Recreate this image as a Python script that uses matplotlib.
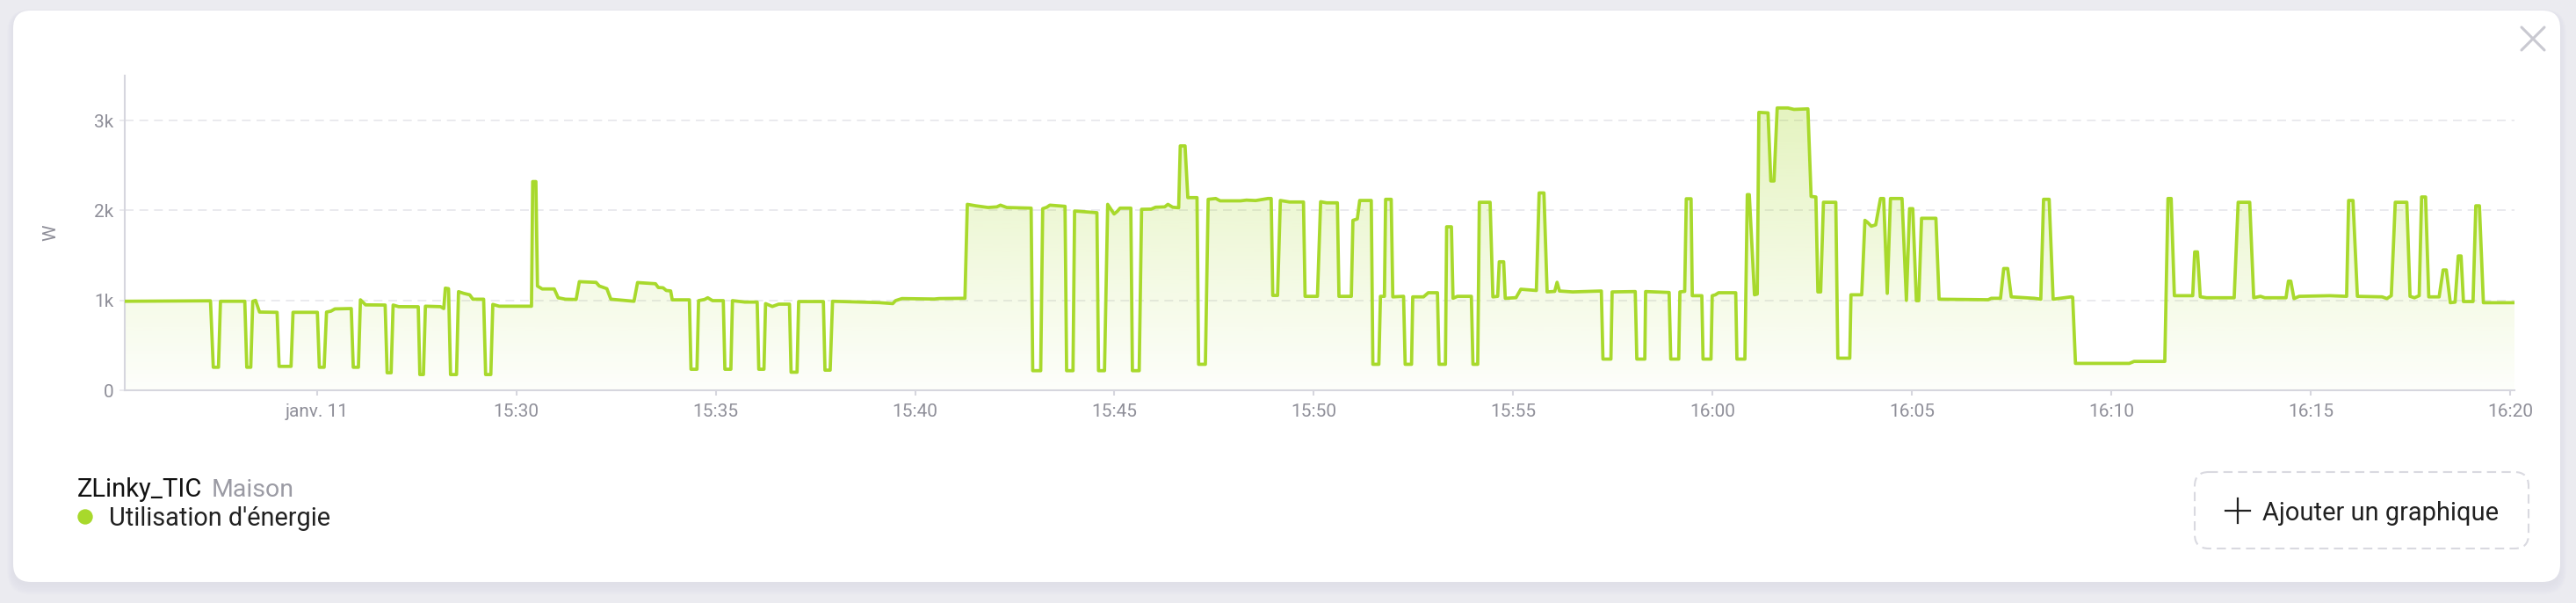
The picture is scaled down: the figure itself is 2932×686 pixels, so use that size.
#!/usr/bin/env python3
"""
Energy usage card (ZLinky_TIC) - one hour of power readings, 15:20 to 16:20.
"""

import numpy as np
import matplotlib.pyplot as plt
from matplotlib.colors import to_rgb
from matplotlib.patches import FancyBboxPatch, Circle

plt.rcParams['font.family'] = ['Roboto', 'DejaVu Sans']

W_PX, H_PX, DPI = 2932, 686, 100

# minutes after 15:20 (janv. 11)
minutes = [
    0.18, 2.33, 2.40, 2.53, 2.58, 3.19, 3.24, 3.34, 3.39, 3.46, 3.56, 4.00, 4.05, 4.35,
    4.40, 5.01, 5.06, 5.18, 5.24, 5.35, 5.45, 5.86, 5.91, 6.04, 6.09, 6.22, 6.71, 6.76,
    6.86, 6.91, 7.05, 7.54, 7.58, 7.67, 7.72, 8.10, 8.18, 8.22, 8.30, 8.35, 8.50, 8.55,
    8.68, 8.83, 8.91, 9.18, 9.23, 9.36, 9.41, 9.57, 10.38, 10.41, 10.49, 10.53, 10.65,
    10.95, 11.05, 11.23, 11.50, 11.58, 12.00, 12.08, 12.27, 12.37, 12.95, 13.04, 13.49,
    13.56, 13.68, 13.76, 13.87, 13.91, 14.34, 14.38, 14.53, 14.57, 14.72, 14.80, 14.92,
    15.19, 15.23, 15.38, 15.42, 15.73, 16.04, 16.08, 16.21, 16.25, 16.42, 16.58, 16.85,
    16.89, 17.04, 17.08, 17.70, 17.74, 17.87, 17.93, 19.10, 19.44, 19.51, 19.67, 20.48,
    20.60, 21.25, 21.31, 21.52, 21.83, 22.05, 22.14, 22.30, 22.91, 22.95, 23.15, 23.20,
    23.30, 23.38, 23.76, 23.80, 23.96, 24.00, 24.37, 24.56, 24.60, 24.75, 24.83, 24.99,
    25.07, 25.14, 25.41, 25.45, 25.62, 25.68, 25.92, 26.03, 26.26, 26.34, 26.46, 26.61,
    26.65, 26.77, 26.84, 27.07, 27.11, 27.28, 27.35, 27.54, 27.65, 28.16, 28.31, 28.54,
    28.85, 28.93, 28.97, 29.09, 29.16, 29.39, 29.74, 29.78, 30.09, 30.17, 30.32, 30.59,
    30.63, 30.94, 30.98, 31.09, 31.15, 31.44, 31.48, 31.63, 31.67, 31.77, 31.80, 31.94,
    31.98, 32.25, 32.29, 32.45, 32.48, 32.75, 32.87, 33.10, 33.14, 33.30, 33.33, 33.45,
    33.49, 33.60, 33.95, 33.99, 34.11, 34.15, 34.42, 34.49, 34.61, 34.65, 34.76, 34.80,
    35.07, 35.19, 35.58, 35.65, 35.77, 35.85, 36.04, 36.10, 36.16, 36.49, 37.21, 37.25,
    37.45, 37.48, 38.06, 38.10, 38.30, 38.32, 38.91, 38.95, 39.15, 39.18, 39.30, 39.34,
    39.46, 39.49, 39.73, 39.76, 39.96, 39.99, 40.07, 40.15, 40.58, 40.61, 40.81, 40.87,
    40.92, 41.05, 41.12, 41.16, 41.39, 41.46, 41.54, 41.62, 41.89, 42.04, 42.39, 42.47,
    42.59, 42.64, 42.71, 42.78, 43.09, 43.14, 43.44, 43.47, 43.74, 43.82, 43.88, 43.98,
    44.09, 44.21, 44.29, 44.38, 44.46, 44.75, 44.86, 44.94, 45.02, 45.11, 45.17, 45.24,
    45.60, 45.68, 46.91, 46.99, 47.22, 47.30, 47.40, 47.49, 47.84, 48.07, 48.23, 48.30,
    48.44, 48.54, 48.99, 49.03, 49.10, 50.45, 50.57, 51.34, 51.42, 51.50, 51.58, 52.04,
    52.09, 52.16, 52.23, 52.39, 53.08, 53.18, 53.47, 53.57, 53.74, 53.85, 54.38, 54.44,
    54.50, 54.58, 54.71, 55.48, 55.90, 55.95, 56.06, 56.17, 56.79, 56.91, 57.02, 57.12,
    57.41, 57.49, 57.60, 57.72, 57.78, 57.88, 57.96, 58.22, 58.32, 58.40, 58.50, 58.62,
    58.70, 58.77, 58.83, 59.07, 59.14, 59.23, 59.33, 60.11,
]
watts = [
    990, 995, 256, 256, 990, 990, 256, 256, 990, 1000, 870, 867, 266, 266,
    867, 867, 256, 256, 870, 880, 905, 909, 256, 256, 1006, 950, 948, 195,
    195, 948, 930, 929, 175, 175, 935, 930, 909, 1136, 1130, 175, 175, 1097,
    1078, 1062, 1013, 1013, 175, 175, 955, 935, 935, 2321, 2321, 1159, 1127,
    1127, 1029, 1013, 1010, 1208, 1200, 1160, 1130, 1013, 990, 1198, 1185,
    1143, 1140, 1110, 1105, 1006, 1006, 234, 234, 997, 1010, 1029, 997,
    997, 234, 234, 997, 981, 981, 234, 234, 964, 932, 958, 958,
    201, 201, 987, 987, 224, 224, 990, 975, 964, 997, 1020, 1015,
    1020, 1023, 2068, 2052, 2033, 2040, 2059, 2033, 2026, 218, 218, 2020,
    2035, 2059, 2046, 218, 218, 1994, 1981, 1975, 218, 218, 2068, 1961,
    1990, 2026, 2026, 218, 218, 2013, 2015, 2036, 2040, 2068, 2036, 2030,
    2718, 2718, 2143, 2143, 289, 289, 2124, 2133, 2107, 2107, 2115, 2110,
    2133, 2133, 1055, 1055, 2111, 2094, 2094, 1045, 1045, 2097, 2085, 2085,
    1045, 1045, 1890, 1906, 2111, 2111, 289, 289, 1045, 1045, 2124, 2124,
    1039, 1045, 289, 289, 1039, 1039, 1085, 1085, 289, 289, 1818, 1818,
    1023, 1045, 1045, 289, 289, 2091, 2091, 1039, 1045, 1429, 1429, 1023,
    1030, 1124, 1110, 2195, 2195, 1094, 1100, 1201, 1104, 1094, 1104, 347,
    347, 1094, 1098, 347, 347, 1098, 1088, 347, 347, 1094, 1100, 2130,
    2130, 1052, 1052, 347, 347, 1052, 1062, 1085, 1085, 347, 347, 2176,
    2176, 1062, 1070, 3091, 3085, 2328, 2328, 3140, 3140, 3124, 3130, 2156,
    2150, 1094, 1094, 2091, 2091, 357, 357, 1062, 1062, 1890, 1870, 1825,
    1840, 2133, 2133, 1078, 2133, 2133, 1000, 2020, 2020, 997, 997, 1913,
    1913, 1013, 1007, 1023, 1023, 1354, 1354, 1039, 1030, 1023, 1013, 2124,
    2124, 1013, 1039, 1035, 299, 299, 321, 321, 2133, 2133, 1052, 1052,
    1539, 1539, 1040, 1029, 1029, 2091, 2091, 1029, 1045, 1029, 1029, 1214,
    1214, 1020, 1045, 1052, 1045, 2111, 2111, 1045, 1039, 1020, 1052, 2091,
    2091, 1045, 1029, 1052, 2150, 2150, 1039, 1039, 1338, 1338, 974, 980,
    1494, 1494, 987, 987, 2052, 2052, 974, 974,
]

tick_minutes = [5, 10, 15, 20, 25, 30, 35, 40, 45, 50, 55, 60]
tick_labels = ['janv. 11', '15:30', '15:35', '15:40', '15:45', '15:50',
               '15:55', '16:00', '16:05', '16:10', '16:15', '16:20']
y_ticks = [0, 1000, 2000, 3000]
y_tick_labels = ['0', '1k', '2k', '3k']

LINE = '#a8d92c'
AXIS = '#d6d6de'
MUTED = '#8f8f99'
DARK = '#212121'


def draw_card(bg):
    """White rounded card with a soft shadow, legend and buttons"""
    for i in range(8):
        shadow = FancyBboxPatch((15 - i, 14 - i * 0.5), 2899 + 2 * i, 652 + 2 * i,
                                boxstyle=f'round,pad=0,rounding_size={20 + i}',
                                fc='#9090a0', ec='none', alpha=0.012)
        bg.add_patch(shadow)
    bg.add_patch(FancyBboxPatch((15, 12), 2899, 650,
                                boxstyle='round,pad=0,rounding_size=20',
                                fc='white', ec='none'))

    # close icon
    bg.plot([2870, 2896], [31, 57], color='#c9c9d1', lw=2.2, solid_capstyle='round')
    bg.plot([2870, 2896], [57, 31], color='#c9c9d1', lw=2.2, solid_capstyle='round')

    # legend
    bg.text(88, 565, 'ZLinky_TIC', fontsize=21, color='#111111', va='baseline')
    bg.text(241, 565, 'Maison', fontsize=20.5, color='#9b9ba4', va='baseline')
    bg.add_patch(Circle((97, 588), 8, color=LINE))
    bg.text(124, 598, "Utilisation d'énergie", fontsize=20.8, color=DARK, va='baseline')

    # add chart button
    bg.add_patch(FancyBboxPatch((2498, 537), 380, 87,
                                boxstyle='round,pad=0,rounding_size=16',
                                fc='none', ec='#d9d9e0', lw=1.5, ls=(0, (5, 3))))
    bg.plot([2533, 2561], [581, 581], color=DARK, lw=1.6)
    bg.plot([2547, 2547], [567, 595], color=DARK, lw=1.6)
    bg.text(2575, 592, 'Ajouter un graphique', fontsize=20.9, color=DARK, va='baseline')


def plot_energy(ax):
    """Power line with a faded gradient fill underneath"""
    x0, x1 = minutes[0], minutes[-1]
    ymax = max(watts)

    grad = np.linspace(0, 1, 256)
    rgba = np.zeros((256, 1, 4))
    rgba[..., :3] = to_rgb(LINE)
    rgba[:, 0, 3] = 0.02 + 0.28 * grad
    im = ax.imshow(rgba, extent=[x0, x1, 0, ymax], origin='lower',
                   aspect='auto', zorder=1, interpolation='bilinear')
    area = ax.fill_between(minutes, watts, 0, facecolor='none', edgecolor='none')
    im.set_clip_path(area.get_paths()[0], transform=ax.transData)

    ax.plot(minutes, watts, color=LINE, lw=2.7, solid_joinstyle='round',
            solid_capstyle='round', zorder=3)

    ax.set_xlim(x0, x1)
    ax.set_ylim(0, 3500)
    ax.set_facecolor('none')

    ax.set_xticks(tick_minutes)
    ax.set_xticklabels(tick_labels)
    ax.set_yticks(y_ticks)
    ax.set_yticklabels(y_tick_labels)

    ax.set_axisbelow(True)
    ax.yaxis.grid(True, color='#e6e6eb', ls=(0, (6, 4)), lw=1.2)

    for side in ['top', 'right']:
        ax.spines[side].set_visible(False)
    for side in ['left', 'bottom']:
        ax.spines[side].set_color(AXIS)
        ax.spines[side].set_linewidth(1.5)

    ax.tick_params(axis='x', colors=AXIS, length=4, width=1.5, pad=7,
                   labelcolor=MUTED, labelsize=15)
    ax.tick_params(axis='y', colors='#e6e6eb', length=4, width=1.2, pad=5,
                   labelcolor=MUTED, labelsize=15)


def main():
    fig = plt.figure(figsize=(W_PX / DPI, H_PX / DPI), dpi=DPI)
    fig.patch.set_facecolor('#ebebf0')

    bg = fig.add_axes([0, 0, 1, 1])
    bg.set_xlim(0, W_PX)
    bg.set_ylim(H_PX, 0)
    bg.axis('off')
    draw_card(bg)

    ax = fig.add_axes([142 / W_PX, 1 - 444 / H_PX, (2862 - 142) / W_PX, (444 - 86) / H_PX])
    plot_energy(ax)

    fig.text(58 / W_PX, 1 - 265 / H_PX, 'W', rotation=90, color=MUTED,
             fontsize=15, ha='center', va='center')

    fig.savefig('out.png', dpi=DPI)
    plt.close(fig)


if __name__ == "__main__":
    main()
